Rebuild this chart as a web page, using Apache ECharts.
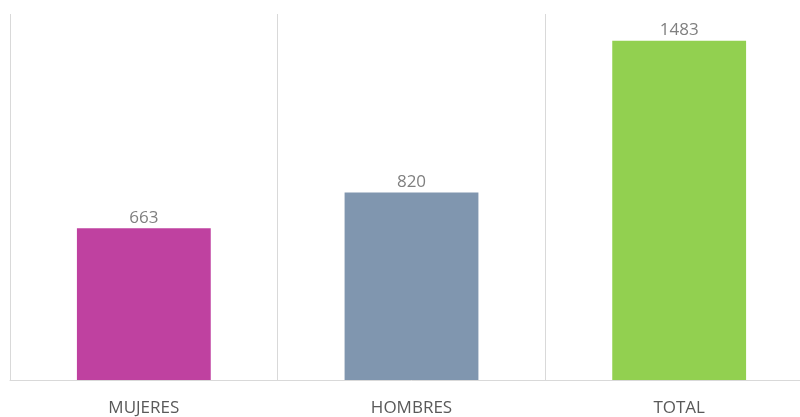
<!DOCTYPE html>
<html>
<head>
<meta charset="utf-8">
<script src="https://cdn.jsdelivr.net/npm/echarts@6/dist/echarts.min.js"></script>
<style>
  html, body { margin: 0; padding: 0; background: #fff; overflow: hidden; }
  /* The plot runs slightly past the right edge of the window */
  #chart { width: 830px; height: 417px; }
</style>
</head>
<body>
<div id="chart"></div>
<script>
// Categories and counts
const categories = ['MUJERES', 'HOMBRES', 'TOTAL'];
const values = [663, 820, 1483];
const barColors = ['#BF41A0', '#8096AF', '#92D050'];

const chart = echarts.init(document.getElementById('chart'), null, { renderer: 'canvas' });

chart.setOption({
  animation: false,
  backgroundColor: '#ffffff',
  grid: { left: 10, top: 14, right: 17, bottom: 36, containLabel: false },
  xAxis: {
    type: 'category',
    data: categories,
    boundaryGap: true,
    axisLine: { show: true, lineStyle: { color: '#D9D9D9', width: 1 } },
    axisTick: { show: false },
    splitLine: { show: true, lineStyle: { color: '#D9D9D9', width: 1 } },
    axisLabel: {
      color: '#595959',
      fontFamily: 'Open Sans',
      fontSize: 17,
      margin: 20
    }
  },
  yAxis: {
    type: 'value',
    min: 0,
    max: 1600,
    show: false,
    splitLine: { show: false }
  },
  series: [{
    type: 'bar',
    barWidth: '50%',
    data: values.map((v, i) => ({ value: v, itemStyle: { color: barColors[i] } })),
    label: {
      show: true,
      position: 'top',
      distance: 2,
      color: '#7F7F7F',
      fontFamily: 'Open Sans',
      fontSize: 17
    }
  }]
});
</script>
</body>
</html>
